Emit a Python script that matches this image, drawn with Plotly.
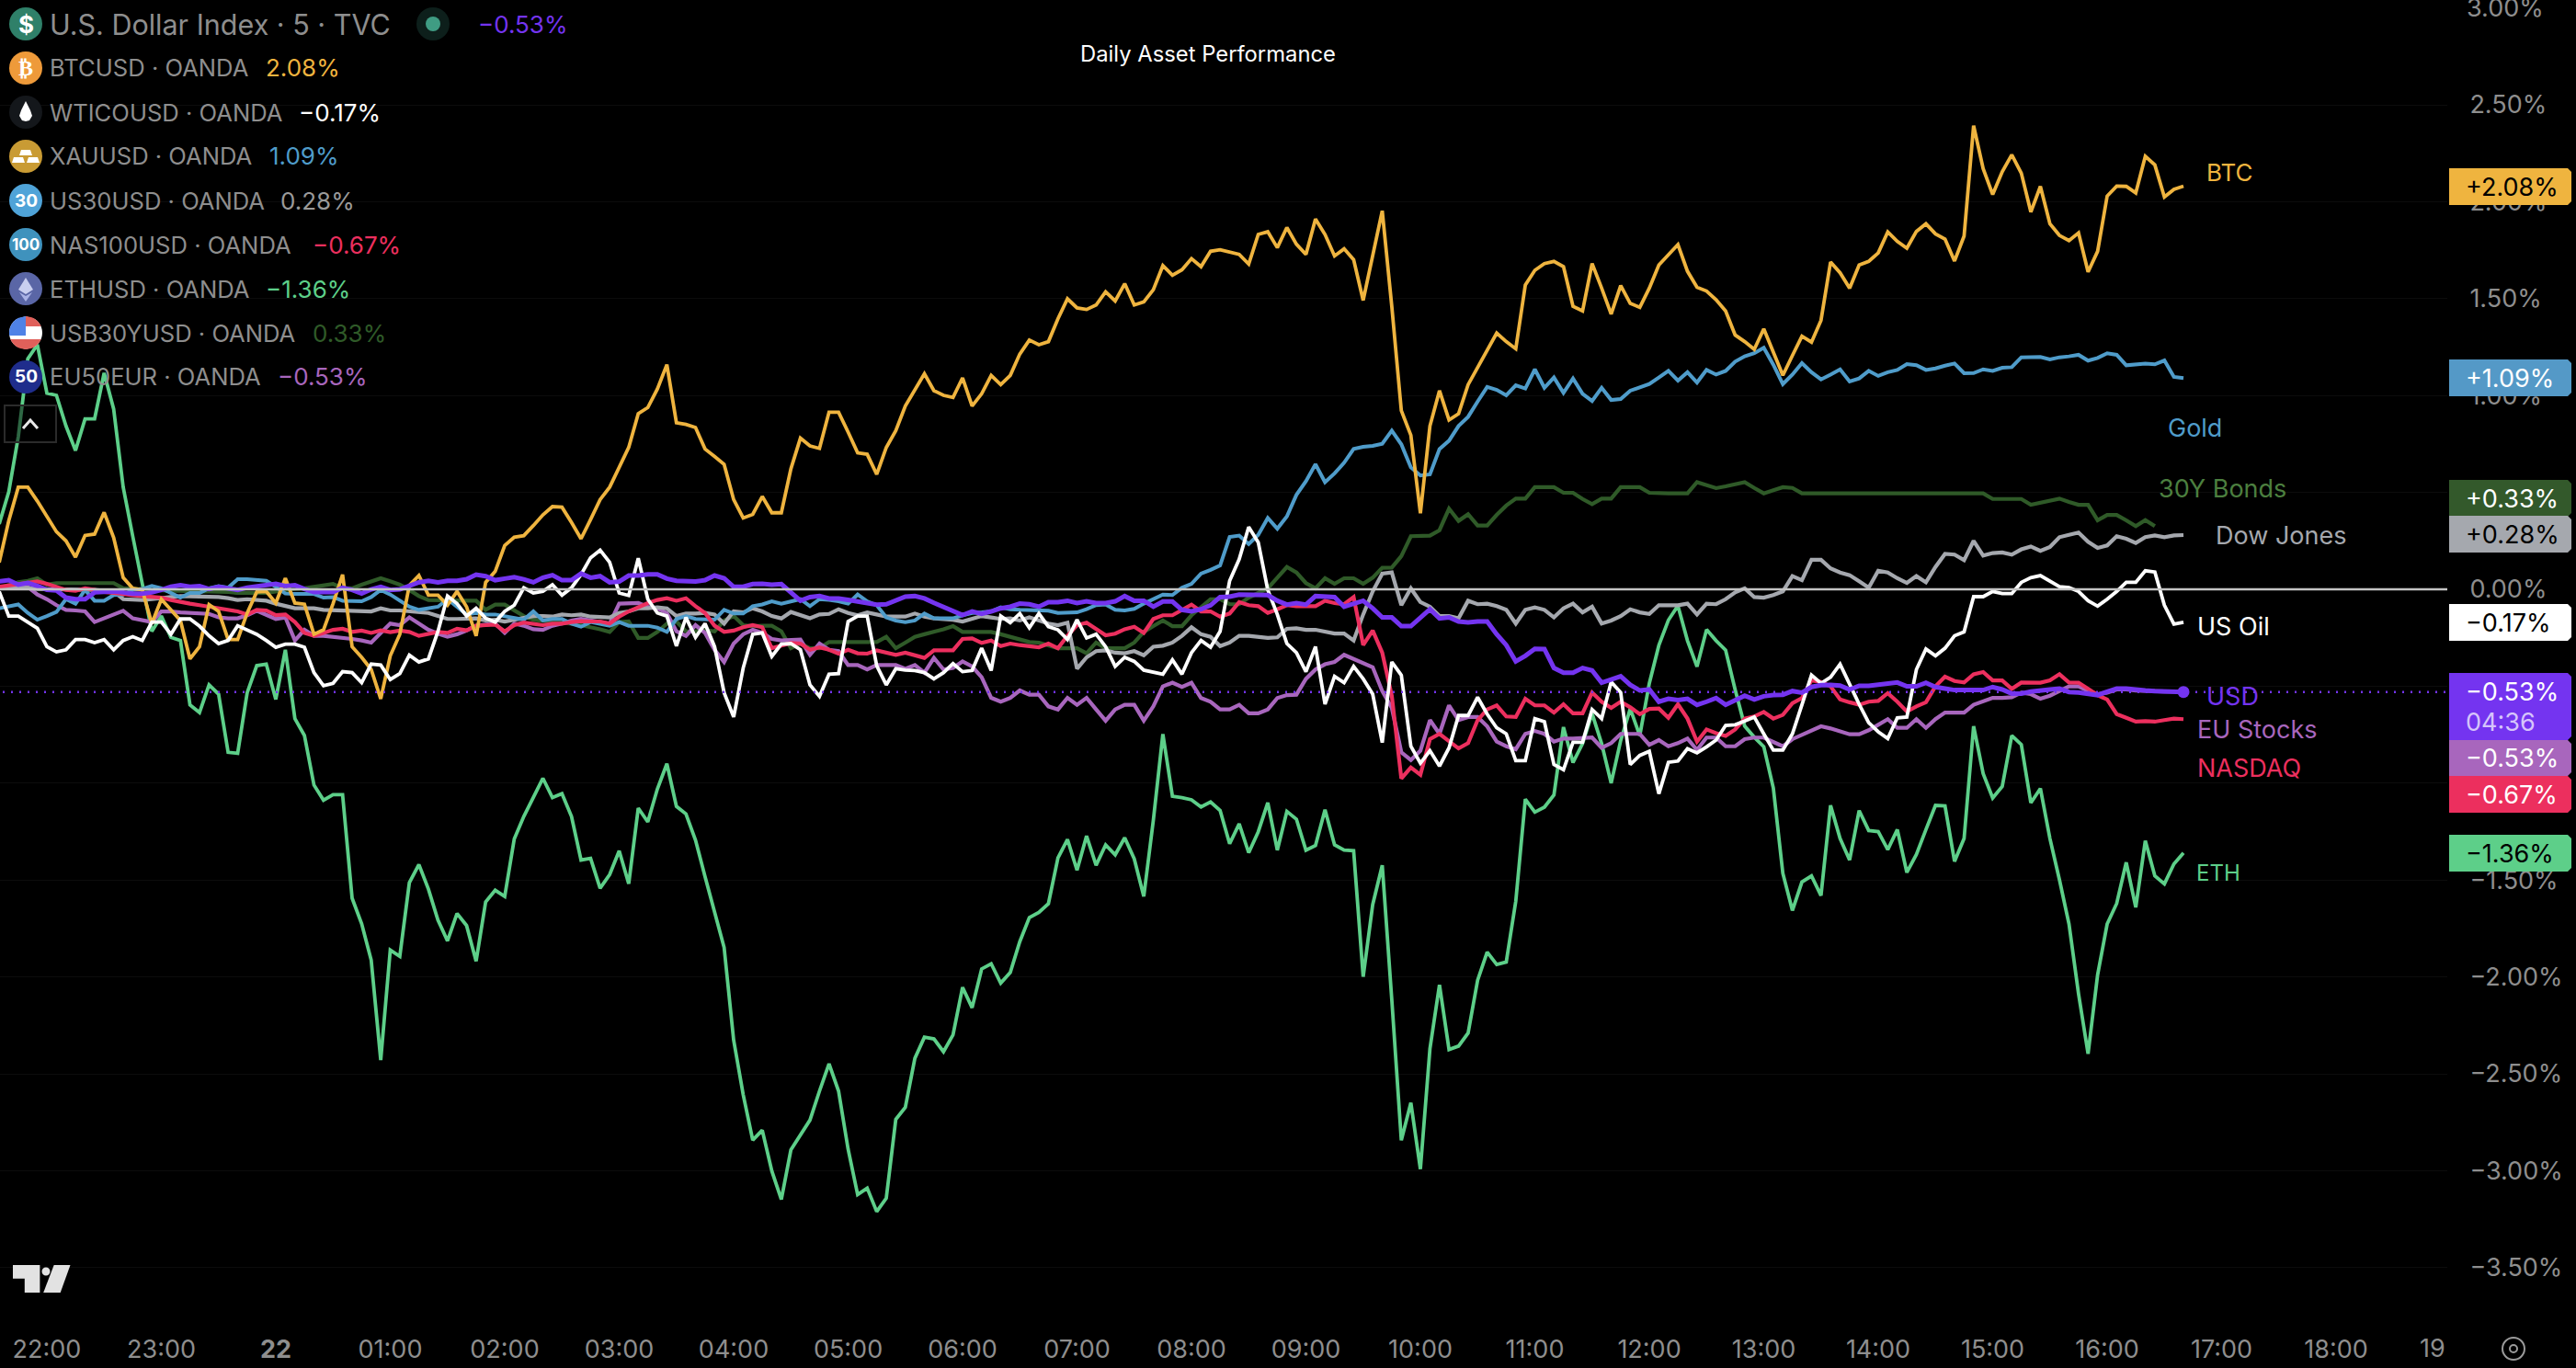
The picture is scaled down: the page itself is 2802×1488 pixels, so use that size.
import math
import pandas as pd
import plotly.graph_objects as go

# 5 minute bars, % change (first bar 21:35)
btc = [.139,.353,.527,.527,.455,
.376,.297,.25,.166,.278,.285,.397,.266,.06,.005,
-.003,-.177,-.051,-.106,-.161,-.359,-.296,-.079,-.114,-.259,
-.259,-.122,-.014,-.011,-.071,.057,-.071,-.077,-.232,-.209,
-.074,.076,-.296,-.351,-.414,-.565,-.343,-.232,.021,.071,
-.03,-.03,-.082,-.011,-.09,-.24,.036,.092,.226,.269,
.277,.329,.384,.427,.424,.345,.261,.36,.463,.527,
.629,.732,.906,.938,1.033,1.159,.859,.851,.835,.724,
.685,.645,.463,.368,.387,.479,.395,.395,.621,.78,
.74,.727,.914,.914,.811,.704,.697,.593,.732,.819,
.946,1.025,1.112,1.025,1.001,.99,1.091,.946,1.009,1.104,
1.056,1.104,1.214,1.286,1.262,1.278,1.396,1.499,1.452,1.444,
1.467,1.535,1.488,1.577,1.467,1.483,1.546,1.67,1.621,1.649,
1.706,1.665,1.744,1.752,1.739,1.728,1.678,1.831,1.845,1.763,
1.867,1.781,1.728,1.91,1.831,1.72,1.757,1.701,1.491,1.728,
1.953,1.46,.922,.795,.392,.843,1.025,.874,.906,1.056,
1.143,1.23,1.322,1.278,1.241,1.57,1.646,1.681,1.692,1.665,
1.46,1.436,1.681,1.554,1.42,1.567,1.475,1.455,1.554,1.673,
1.728,1.779,1.641,1.558,1.539,1.494,1.436,1.312,1.278,1.238,
1.344,1.222,1.104,1.206,1.306,1.275,1.388,1.689,1.633,1.554,
1.673,1.692,1.736,1.844,1.795,1.76,1.847,1.886,1.834,1.807,
1.694,1.823,2.392,2.171,2.037,2.155,2.242,2.147,1.947,2.079,
1.886,1.826,1.799,1.839,1.638,1.744,2.029,2.081,2.079,2.045,
2.234,2.19,2.024,2.064,2.08]

eth = [.337,.503,.787,1.19,1.262,
1.012,1.001,.843,.716,.879,.879,1.116,.93,.527,.274,
.036,-.217,-.138,-.248,-.264,-.596,-.636,-.493,-.541,-.841,
-.846,-.533,-.394,-.386,-.568,-.312,-.667,-.754,-1.01,-1.088,
-1.06,-1.06,-1.594,-1.726,-1.913,-2.429,-1.861,-1.894,-1.514,-1.42,
-1.547,-1.707,-1.814,-1.673,-1.735,-1.919,-1.613,-1.553,-1.585,-1.288,
-1.172,-1.069,-.975,-1.075,-1.054,-1.172,-1.397,-1.388,-1.542,-1.472,
-1.35,-1.519,-1.129,-1.2,-1.031,-.9,-1.12,-1.159,-1.294,-1.482,
-1.669,-1.848,-2.326,-2.607,-2.842,-2.791,-3.001,-3.148,-2.893,-2.814,
-2.739,-2.589,-2.448,-2.589,-2.889,-3.123,-3.09,-3.211,-3.142,-2.735,
-2.673,-2.42,-2.311,-2.32,-2.386,-2.299,-2.054,-2.159,-1.959,-1.932,
-2.032,-1.977,-1.818,-1.694,-1.667,-1.622,-1.386,-1.291,-1.449,-1.273,
-1.424,-1.319,-1.37,-1.282,-1.391,-1.585,-1.192,-.747,-1.068,-1.075,
-1.086,-1.123,-1.097,-1.141,-1.313,-1.21,-1.359,-1.251,-1.101,-1.346,
-1.146,-1.186,-1.346,-1.322,-1.137,-1.319,-1.346,-1.349,-1.999,-1.627,
-1.424,-2.117,-2.843,-2.649,-2.992,-2.371,-2.041,-2.375,-2.357,-2.29,
-2.017,-1.872,-1.936,-1.923,-1.609,-1.083,-1.15,-1.124,-1.061,-.711,
-.894,-.796,-.641,-.796,-1.0,-.78,-.616,-.755,-.485,-.289,
-.159,-.085,-.265,-.399,-.208,-.265,-.314,-.518,-.706,-.763,
-.812,-1.025,-1.466,-1.657,-1.51,-1.479,-1.58,-1.115,-1.286,-1.397,
-1.142,-1.245,-1.25,-1.343,-1.24,-1.461,-1.368,-1.24,-1.115,-1.118,
-1.404,-1.286,-.706,-.951,-1.077,-1.017,-.755,-.801,-1.102,-1.028,
-1.286,-1.499,-1.727,-2.087,-2.397,-1.989,-1.727,-1.621,-1.409,-1.641,
-1.298,-1.479,-1.52,-1.417,-1.36]

gold = [-.098,-.09,-.078,-.122,-.157,
-.138,-.117,-.051,-.074,-.003,-.059,-.059,-.03,-.027,-.003,
.002,.017,.005,-.019,-.043,-.019,-.019,.005,.017,.008,
.052,.052,.047,.044,.013,-.022,-.024,-.024,-.024,-.043,
-.04,-.059,-.06,-.062,-.04,-.003,-.027,-.059,-.09,-.106,
-.098,-.09,-.051,-.09,-.13,-.122,-.13,-.13,-.138,-.145,
-.157,-.114,-.161,-.153,-.153,-.177,-.193,-.169,-.177,-.188,
-.169,-.188,-.188,-.188,-.198,-.22,-.153,-.138,-.153,-.157,
-.157,-.106,-.125,-.125,-.087,-.078,-.062,-.074,-.062,-.051,
-.087,-.051,-.055,-.062,-.074,-.027,-.062,-.082,-.145,-.161,
-.169,-.161,-.125,-.15,-.15,-.15,-.134,-.122,-.119,-.114,
-.093,-.103,-.106,-.106,-.106,-.11,-.122,-.122,-.119,-.103,
-.082,-.078,-.106,-.109,-.101,-.074,-.051,-.027,-.03,.008,
.028,.081,.1,.123,.27,.277,.234,.281,.368,.313,
.376,.487,.558,.645,.553,.598,.653,.724,.735,.74,
.751,.819,.748,.629,.587,.593,.724,.767,.843,.89,
.969,1.044,1.029,1.001,1.053,1.036,1.135,1.04,1.093,1.014,
1.088,1.009,.972,1.04,.977,.982,1.025,1.04,1.059,1.093,
1.127,1.077,1.12,1.067,1.132,1.108,1.127,1.175,1.202,1.218,
1.246,1.159,1.059,1.108,1.167,1.12,1.083,1.108,1.135,1.072,
1.088,1.127,1.101,1.12,1.132,1.162,1.156,1.132,1.14,1.154,
1.165,1.115,1.116,1.135,1.127,1.143,1.146,1.197,1.199,1.199,
1.186,1.197,1.202,1.21,1.18,1.194,1.218,1.21,1.156,1.159,
1.165,1.161,1.181,1.096,1.09]

# bonds stop three bars before the others
bonds = [.008,.024,.036,.044,.057,
.024,.032,.032,.032,.032,.032,.032,.032,.005,.002,
.002,-.003,-.008,-.008,-.008,-.011,-.011,-.011,-.011,-.014,
-.019,-.019,-.019,-.019,-.011,-.003,.002,.005,.013,.021,
.028,.005,.005,.024,.04,.057,.041,.024,-.003,-.035,
-.055,-.055,-.055,-.055,-.055,-.059,-.106,-.079,-.079,-.106,
-.138,-.157,-.161,-.166,-.172,-.177,-.185,-.193,-.206,-.22,
-.169,-.166,-.251,-.251,-.22,-.177,-.166,-.217,-.217,-.209,
-.217,-.161,-.138,-.185,-.19,-.188,-.188,-.217,-.304,-.28,
-.304,-.304,-.272,-.272,-.272,-.272,-.272,-.272,-.245,-.304,
-.275,-.245,-.232,-.22,-.206,-.19,-.22,-.22,-.22,-.22,
-.232,-.245,-.259,-.272,-.275,-.291,-.304,-.304,-.304,-.33,
-.275,-.304,-.304,-.304,-.275,-.22,-.19,-.161,-.19,-.19,
-.134,-.09,-.051,-.051,-.077,-.077,-.043,-.019,.005,.06,
.115,.087,.032,.005,.057,.028,.057,.057,.028,.06,
.111,.112,.171,.274,.277,.277,.305,.416,.353,.387,
.329,.329,.384,.432,.468,.468,.527,.527,.527,.498,
.498,.466,.44,.468,.468,.527,.527,.527,.498,.495,
.495,.495,.495,.553,.539,.522,.531,.542,.553,.523,
.495,.511,.527,.523,.495,.495,.495,.495,.495,.495,
.495,.495,.495,.495,.495,.495,.495,.495,.495,.495,
.495,.495,.495,.495,.466,.466,.466,.466,.436,.447,
.459,.468,.451,.436,.436,.356,.384,.384,.356,.326,
.357,.326]

dow = [.008,.008,.013,.008,.002,
.002,.002,0,-.003,-.003,-.003,-.008,-.011,-.051,-.054,
-.055,-.051,-.043,-.04,-.035,-.036,-.04,-.04,-.04,-.046,
-.055,-.051,-.054,-.059,-.074,-.087,-.098,-.098,-.098,-.106,
-.108,-.109,-.112,-.114,-.114,-.098,-.109,-.109,-.114,-.122,
-.122,-.138,-.153,-.153,-.15,-.15,-.161,-.157,-.166,-.157,
-.145,-.138,-.138,-.141,-.13,-.134,-.13,-.141,-.143,-.145,
-.122,-.114,-.098,-.098,-.093,-.098,-.138,-.125,-.125,-.122,
-.13,-.177,-.114,-.119,-.098,-.114,-.138,-.15,-.117,-.134,
-.149,-.13,-.127,-.103,-.122,-.134,-.119,-.13,-.141,-.141,
-.141,-.125,-.141,-.15,-.153,-.157,-.166,-.15,-.138,-.145,
-.153,-.15,-.161,-.145,-.161,-.177,-.185,-.172,-.41,-.351,
-.319,-.315,-.327,-.33,-.319,-.34,-.296,-.291,-.275,-.24,
-.196,-.232,-.245,-.293,-.275,-.24,-.24,-.245,-.251,-.248,
-.204,-.201,-.209,-.209,-.221,-.228,-.228,-.264,-.13,-.011,
.081,.087,-.082,.005,-.066,-.09,-.138,-.138,-.15,-.059,
-.077,-.074,-.087,-.106,-.177,-.106,-.093,-.106,-.145,-.098,
-.074,-.119,-.09,-.177,-.161,-.138,-.103,-.119,-.127,-.082,
-.082,-.082,-.074,-.13,-.074,-.077,-.051,-.016,.005,-.04,
-.043,-.03,-.011,.068,.047,.152,.152,.108,.087,.073,
.041,.008,.096,.087,.057,.033,.068,.036,.115,.183,
.179,.15,.25,.174,.187,.19,.179,.206,.221,.198,
.218,.269,.281,.293,.245,.213,.226,.274,.261,.239,
.269,.278,.269,.278,.28]

usd = [.041,.047,.024,.033,.017,
-.003,-.006,-.043,-.051,-.051,-.016,-.011,-.011,-.016,-.022,
-.022,-.016,-.003,.013,.021,.013,.017,.002,.013,.005,
-.003,.009,.016,.021,.028,.017,.021,.002,-.014,-.014,
-.014,.008,-.003,-.022,0,.013,-.003,0,.017,.036,
.044,.036,.044,.044,.052,.076,.068,.047,.055,.063,
.052,.036,.06,.073,.047,.047,.081,.06,.068,.036,
.04,.071,.071,.077,.077,.055,.044,.044,.04,.047,
.071,.057,.013,.013,.027,.028,.024,.027,-.019,-.059,
-.04,-.035,-.047,-.047,-.055,-.063,-.071,-.079,-.077,-.055,
-.038,-.035,-.047,-.07,-.09,-.114,-.133,-.114,-.127,-.114,
-.098,-.09,-.074,-.077,-.09,-.066,-.066,-.059,-.071,-.062,
-.071,-.071,-.062,-.035,-.059,-.059,-.09,-.063,-.063,-.106,
-.114,-.103,-.082,-.04,-.038,-.027,-.028,-.028,-.03,-.059,
-.079,-.071,-.079,-.035,-.035,-.04,-.09,-.074,-.059,-.098,
-.145,-.145,-.19,-.19,-.145,-.103,-.15,-.145,-.166,-.171,
-.166,-.166,-.232,-.288,-.372,-.343,-.307,-.308,-.406,-.43,
-.43,-.406,-.419,-.482,-.466,-.449,-.493,-.522,-.517,-.58,
-.565,-.572,-.565,-.596,-.58,-.561,-.596,-.572,-.549,-.569,
-.552,-.546,-.544,-.525,-.533,-.504,-.495,-.493,-.497,-.517,
-.498,-.498,-.493,-.489,-.481,-.501,-.501,-.482,-.504,-.512,
-.52,-.52,-.52,-.52,-.504,-.517,-.538,-.538,-.528,-.525,
-.517,-.512,-.53,-.533,-.538,-.546,-.528,-.512,-.512,-.52,
-.522,-.525,-.527,-.525,-.53]

nasdaq = [.013,.021,.024,.036,.041,
.028,.013,-.003,-.008,.005,-.003,-.014,-.019,-.027,-.03,
-.035,-.04,-.043,-.055,-.066,-.074,-.082,-.09,-.098,-.109,
-.114,-.13,-.106,-.109,-.133,-.13,-.169,-.225,-.24,-.225,
-.209,-.204,-.22,-.213,-.225,-.212,-.221,-.213,-.22,-.24,
-.229,-.22,-.225,-.204,-.212,-.188,-.185,-.182,-.217,-.185,
-.172,-.177,-.185,-.177,-.177,-.169,-.164,-.166,-.166,-.177,
-.141,-.114,-.09,-.071,-.055,-.046,-.059,-.046,-.087,-.122,
-.188,-.22,-.213,-.196,-.185,-.196,-.304,-.288,-.277,-.28,
-.312,-.3,-.312,-.332,-.312,-.33,-.332,-.315,-.324,-.338,
-.327,-.343,-.354,-.315,-.315,-.315,-.256,-.253,-.277,-.264,
-.293,-.28,-.288,-.293,-.299,-.28,-.304,-.24,-.185,-.172,
-.204,-.237,-.229,-.206,-.193,-.225,-.153,-.134,-.134,-.109,
-.079,-.114,-.114,-.141,-.125,-.066,-.082,-.087,-.122,-.103,
-.082,-.087,-.087,-.087,-.059,-.071,-.077,-.04,-.288,-.213,
-.327,-.549,-.976,-.92,-.957,-.773,-.746,-.783,-.821,-.794,
-.675,-.62,-.599,-.656,-.659,-.565,-.599,-.599,-.636,-.593,
-.64,-.64,-.533,-.58,-.612,-.58,-.609,-.644,-.617,-.615,
-.663,-.593,-.667,-.786,-.723,-.742,-.757,-.723,-.667,-.656,
-.633,-.667,-.648,-.588,-.561,-.47,-.478,-.501,-.568,-.583,
-.596,-.58,-.576,-.536,-.58,-.631,-.604,-.583,-.501,-.451,
-.473,-.481,-.438,-.427,-.47,-.47,-.514,-.481,-.482,-.482,
-.47,-.438,-.481,-.482,-.514,-.546,-.569,-.644,-.663,-.683,
-.68,-.683,-.675,-.667,-.67]

eu_stocks = [.013,.013,.017,.013,-.027,
-.051,-.082,-.106,-.109,-.114,-.169,-.15,-.13,-.111,-.15,
-.161,-.169,-.114,-.114,-.119,-.122,-.125,-.127,-.145,-.15,
-.15,-.134,-.111,-.13,-.153,-.145,-.264,-.209,-.24,-.24,
-.245,-.248,-.256,-.264,-.275,-.225,-.177,-.185,-.145,-.177,
-.209,-.229,-.245,-.232,-.213,-.188,-.182,-.177,-.225,-.177,
-.188,-.206,-.209,-.188,-.177,-.161,-.153,-.161,-.169,-.177,
-.074,-.071,-.071,-.09,-.098,-.122,-.217,-.24,-.185,-.225,
-.312,-.375,-.28,-.232,-.209,-.225,-.256,-.264,-.259,-.259,
-.338,-.28,-.312,-.319,-.391,-.391,-.414,-.391,-.391,-.391,
-.41,-.391,-.43,-.354,-.414,-.406,-.372,-.398,-.454,-.56,
-.58,-.561,-.522,-.544,-.544,-.604,-.62,-.56,-.596,-.56,
-.62,-.678,-.62,-.596,-.596,-.678,-.604,-.501,-.482,-.504,
-.482,-.561,-.58,-.62,-.62,-.596,-.64,-.64,-.62,-.561,
-.546,-.544,-.462,-.414,-.387,-.375,-.338,-.359,-.38,-.402,
-.525,-.612,-.841,-.881,-.833,-.675,-.746,-.599,-.675,-.659,
-.659,-.707,-.786,-.81,-.825,-.746,-.731,-.746,-.786,-.77,
-.77,-.765,-.765,-.818,-.794,-.746,-.746,-.746,-.802,-.778,
-.81,-.794,-.77,-.829,-.765,-.765,-.81,-.81,-.773,-.765,
-.765,-.786,-.81,-.773,-.751,-.726,-.707,-.718,-.731,-.748,
-.748,-.727,-.699,-.67,-.715,-.715,-.67,-.715,-.67,-.636,
-.636,-.636,-.596,-.576,-.56,-.56,-.557,-.533,-.541,-.565,
-.549,-.525,-.501,-.501,-.525,-.541,-.533,-.517,-.517,-.522,
-.525,-.527,-.527,-.527,-.53]

us_oil = [-.011,-.138,-.138,-.169,-.201,
-.296,-.323,-.312,-.259,-.259,-.275,-.259,-.312,-.264,-.244,
-.264,-.169,-.169,-.232,-.153,-.153,-.19,-.24,-.28,-.264,
-.188,-.209,-.232,-.264,-.299,-.283,-.283,-.299,-.43,-.497,
-.485,-.425,-.43,-.482,-.386,-.391,-.466,-.435,-.34,-.375,
-.359,-.217,-.035,-.074,-.138,-.098,-.149,-.169,-.114,-.082,
.008,-.019,-.011,.024,-.03,.008,.076,.163,.202,.139,
-.019,-.032,.16,-.051,-.122,-.138,-.293,-.145,-.248,-.177,
-.296,-.533,-.659,-.406,-.232,-.225,-.346,-.283,-.28,-.312,
-.493,-.552,-.438,-.435,-.166,-.138,-.138,-.394,-.493,-.41,
-.417,-.419,-.43,-.462,-.43,-.383,-.425,-.419,-.304,-.419,
-.138,-.172,-.125,-.198,-.125,-.193,-.209,-.259,-.157,-.251,
-.232,-.296,-.398,-.351,-.372,-.417,-.427,-.438,-.364,-.438,
-.327,-.264,-.299,-.217,.044,.155,.321,.242,-.003,-.13,
-.28,-.327,-.425,-.296,-.593,-.449,-.482,-.398,-.462,-.541,
-.791,-.375,-.443,-.81,-.897,-.833,-.912,-.818,-.651,-.651,
-.557,-.644,-.715,-.746,-.884,-.884,-.667,-.683,-.904,-.931,
-.789,-.789,-.62,-.667,-.478,-.533,-.904,-.857,-.836,-1.055,
-.893,-.886,-.822,-.844,-.813,-.778,-.702,-.699,-.68,-.659,
-.746,-.83,-.83,-.746,-.596,-.443,-.485,-.454,-.386,-.493,
-.593,-.688,-.735,-.77,-.663,-.659,-.414,-.308,-.343,-.304,
-.24,-.22,-.038,-.038,-.011,-.022,-.022,.036,.06,.071,
.04,.013,.009,-.011,-.059,-.087,-.051,-.011,.036,.036,
.096,.089,-.082,-.18,-.17]

times = pd.date_range("2024-10-21 21:35", periods=230, freq="5min")
hour_ticks = pd.date_range("2024-10-21 22:00", "2024-10-22 18:00", freq="1h")
hour_text = ["22:00", "23:00", "<b>22</b>", "01:00", "02:00", "03:00", "04:00", "05:00", "06:00", "07:00",
             "08:00", "09:00", "10:00", "11:00", "12:00", "13:00", "14:00", "15:00", "16:00", "17:00", "18:00"]
pct_ticks = [2.5, 2, 1.5, 1, 0.5, 0, -0.5, -1, -1.5, -2, -2.5, -3, -3.5]
pct_text = ["2.50%", "2.00%", "1.50%", "1.00%", "", "0.00%", "", "", "−1.50%", "−2.00%", "−2.50%", "−3.00%", "−3.50%"]
usd_last = -0.53

FONT = "Inter"
C_BTC, C_OIL, C_GOLD, C_DOW = "#efb43f", "#ffffff", "#4f9cca", "#a5a8ae"
C_NAS, C_ETH, C_BOND, C_EU, C_USD = "#ec2f5e", "#5dcf89", "#2f5a28", "#a866bd", "#7434f0"
GREY = "#8e8e8e"
W, H = 2802, 1488
PLOT_W, PLOT_H = 2662, 1430

def px(x):
    return x / PLOT_W

def py(y):
    return 1 - y / PLOT_H

fig = go.Figure()
series = [(eth, C_ETH, 3.8), (bonds, C_BOND, 4.2), (eu_stocks, C_EU, 4.2), (dow, C_DOW, 4.2), (gold, C_GOLD, 4),
          (nasdaq, C_NAS, 4.2), (btc, C_BTC, 3.8), (us_oil, C_OIL, 3.8), (usd, C_USD, 5)]
for vals, color, width in series:
    fig.add_trace(go.Scatter(x=times[:len(vals)], y=vals, mode="lines", line=dict(color=color, width=width),
                             hoverinfo="skip"))
fig.add_trace(go.Scatter(x=times[-1:], y=usd[-1:], mode="markers", marker=dict(color=C_USD, size=13), hoverinfo="skip"))

shapes = []
annots = []

def text(x, y, s, color, size, anchor="left", family=FONT):
    annots.append(dict(x=px(x), y=py(y), xref="paper", yref="paper", text=s, showarrow=False, xanchor=anchor,
                       yanchor="middle", borderpad=0, font=dict(family=family, size=size, color=color)))

def circle(cx, cy, r, color, line=None):
    shapes.append(dict(type="circle", xref="paper", yref="paper", x0=px(cx - r), x1=px(cx + r), y0=py(cy - r),
                       y1=py(cy + r), fillcolor=color, line=dict(color=line or color, width=2 if line else 0)))

def poly(points, color):
    path = "M" + " L".join(f"{px(x):.5f},{py(y):.5f}" for x, y in points) + " Z"
    shapes.append(dict(type="path", xref="paper", yref="paper", path=path, fillcolor=color, line=dict(width=0)))

# zero line and last price line
shapes.append(dict(type="line", xref="paper", x0=0, x1=1, y0=0, y1=0, line=dict(color="#c4c4c4", width=2.4)))
shapes.append(dict(type="line", xref="paper", x0=px(3), x1=1, y0=usd_last, y1=usd_last,
                   line=dict(color=C_USD, width=2.4, dash="2px,7px")))

# the top tick sits half off the page, the axis would drop it
text(2682, 9, "3.00%", GREY, 27)

# price badges on the axis
badges = [
    (183, 223, C_BTC, "+2.08%", "#000000"),
    (391, 431, "#5499c7", "+1.09%", "#ffffff"),
    (522, 562, "#33592b", "+0.33%", "#ffffff"),
    (561, 601, "#a5a8ae", "+0.28%", "#000000"),
    (657, 697, "#ffffff", "−0.17%", "#000000"),
    (732, 805, C_USD, "−0.53%", "#ffffff"),
    (805, 844, "#a866bd", "−0.53%", "#ffffff"),
    (844, 884, C_NAS, "−0.67%", "#ffffff"),
    (908, 948, C_ETH, "−1.36%", "#000000"),
]
for top, bottom, fill, label, ink in badges:
    poly([(2664, top), (2793, top), (2797, top + 4), (2797, bottom - 4), (2793, bottom), (2664, bottom)], fill)
    text(2681, top + 20, label, ink, 27)
text(2681, 785, "04:36", "#d6c4fb", 27)

# names next to the lines
line_labels = [
    ("BTC", C_BTC, 2399, 188, 26),
    ("Gold", C_GOLD, 2357, 465, 27),
    ("30Y Bonds", "#4b7f3f", 2347, 531, 27),
    ("Dow Jones", C_DOW, 2409, 582, 27),
    ("US Oil", "#ffffff", 2389, 681, 27),
    ("USD", C_USD, 2399, 757, 27),
    ("EU Stocks", C_EU, 2389, 793, 27),
    ("NASDAQ", C_NAS, 2389, 835, 27),
    ("ETH", C_ETH, 2388, 949, 24),
]
for s, color, x, y, size in line_labels:
    text(x, y, s, color, size)

# legend at the top left
legend_rows = [
    ("BTCUSD · OANDA", "2.08%", C_BTC, 288),
    ("WTICOUSD · OANDA", "−0.17%", "#ffffff", 323.5),
    ("XAUUSD · OANDA", "1.09%", C_GOLD, 292),
    ("US30USD · OANDA", "0.28%", "#9a9a9a", 304),
    ("NAS100USD · OANDA", "−0.67%", C_NAS, 339),
    ("ETHUSD · OANDA", "−1.36%", C_ETH, 288),
    ("USB30YUSD · OANDA", "0.33%", C_BOND, 339),
    ("EU50EUR · OANDA", "−0.53%", C_EU, 301),
]
text(53, 26, "U.S. Dollar Index · 5 · TVC", GREY, 30.5)
text(519, 26, "−0.53%", C_USD, 26)
for i, (name, val, color, xval) in enumerate(legend_rows):
    y = 74 + 48 * i
    text(53, y, name, GREY, 25.6)
    text(xval, y, val, color, 26)

CX = 28
circle(CX, 26, 18, "#2f8069")
text(CX, 26, "<b>$</b>", "#ffffff", 26, "center")
circle(471, 26, 18, "#0d1f1b")
circle(471, 26, 8, "#3f9c83")
circle(CX, 74, 18, "#ee9a3a")
text(CX, 74, "<b>₿</b>", "#ffffff", 24, "center", "DejaVu Sans")
circle(CX, 122, 18, "#14171b")
poly([(CX, 110), (CX + 5, 120), (CX + 7, 126), (CX + 4, 131), (CX, 132), (CX - 4, 131), (CX - 7, 126), (CX - 5, 120)], "#ffffff")
circle(CX, 170, 18, "#c99b34")
poly([(CX - 5, 163), (CX + 5, 163), (CX + 7, 169), (CX - 7, 169)], "#ffffff")
poly([(CX - 13, 171), (CX - 3, 171), (CX - 1, 177), (CX - 15, 177)], "#ffffff")
poly([(CX + 3, 171), (CX + 13, 171), (CX + 15, 177), (CX + 1, 177)], "#ffffff")
circle(CX, 218, 18, "#4fa3d8")
text(CX, 218, "<b>30</b>", "#ffffff", 19, "center")
circle(CX, 266, 18, "#3f92bd")
text(CX, 266, "<b>100</b>", "#ffffff", 17, "center")
circle(CX, 314, 18, "#5a66a6")
poly([(CX, 302), (CX + 8, 315), (CX, 320), (CX - 8, 315)], "#c9cff0")
poly([(CX - 7, 318), (CX, 322), (CX + 7, 318), (CX, 328)], "#aab3e6")

# flag icon, each piece cut by the circle
def flag_piece(x0, x1, y0, y1, color, cy=362, r=18):
    left, right = [], []
    for k in range(13):
        y = y0 + (y1 - y0) * k / 12
        half = math.sqrt(max(r * r - (y - cy) ** 2, 0))
        left.append((max(x0, CX - half), y))
        right.append((min(x1, CX + half), y))
    poly(left + right[::-1], color)

flag_piece(CX - 18, CX + 18, 344, 380, "#ffffff")
flag_piece(CX, CX + 18, 344, 355, "#e0605a")
flag_piece(CX - 18, CX + 18, 369, 380, "#e0605a")
flag_piece(CX - 18, CX, 344, 365, "#4f82e6")
circle(CX, 410, 18, "#1f2d8c")
text(CX, 410, "<b>50</b>", "#ffffff", 19, "center")

# collapse button
shapes.append(dict(type="rect", xref="paper", yref="paper", x0=px(5), x1=px(61), y0=py(441), y1=py(481),
                   line=dict(color="#2b2b2b", width=2), fillcolor="rgba(0,0,0,0.5)"))
shapes.append(dict(type="path", xref="paper", yref="paper",
                   path=f"M{px(25)},{py(466)} L{px(33)},{py(457)} L{px(41)},{py(466)}",
                   line=dict(color="#e8e8e8", width=3)))

# tradingview mark
poly([(14, 1376), (43.4, 1376), (43.4, 1406), (26.8, 1406), (26.8, 1390.7), (14, 1390.7)], "#e2e2e2")
circle(50, 1383, 4.5, "#e2e2e2")
poly([(58.7, 1376), (76.5, 1376), (65.7, 1406), (47.2, 1406)], "#e2e2e2")

# settings gear and the last time label
text(2646, 1466, "19", GREY, 27, "center")
circle(2734, 1467, 12, "rgba(0,0,0,0)", "#9a9a9a")
circle(2734, 1467, 4, "rgba(0,0,0,0)", "#9a9a9a")

fig.update_layout(
    width=W, height=H, margin=dict(l=0, r=W - PLOT_W, t=0, b=H - PLOT_H),
    paper_bgcolor="#000000", plot_bgcolor="#000000", showlegend=False,
    title=dict(text="Daily Asset Performance", x=1314 / W, y=1 - 59 / H, xanchor="center", yanchor="middle",
               font=dict(family=FONT, size=23.8, color="#ffffff")),
    shapes=[dict(s, layer="above") for s in shapes], annotations=annots,
)
fig.update_xaxes(range=["2024-10-21 21:35:25", "2024-10-22 18:58:18"], tickvals=hour_ticks, ticktext=hour_text,
                 showgrid=False, zeroline=False, showline=False, ticks="outside", ticklen=14, tickcolor="#000000",
                 tickfont=dict(family=FONT, size=27, color=GREY))
fig.update_yaxes(side="right", range=[-3.7429, 3.0408], tickvals=pct_ticks, ticktext=pct_text, gridcolor="#0c0c0c",
                 zeroline=False, showline=False, ticks="outside", ticklen=18, tickcolor="#000000",
                 tickfont=dict(family=FONT, size=27, color=GREY))

fig.write_html("out.html", config=dict(displayModeBar=False),
               post_script="document.body.style.margin='0';document.body.style.overflow='hidden';")
